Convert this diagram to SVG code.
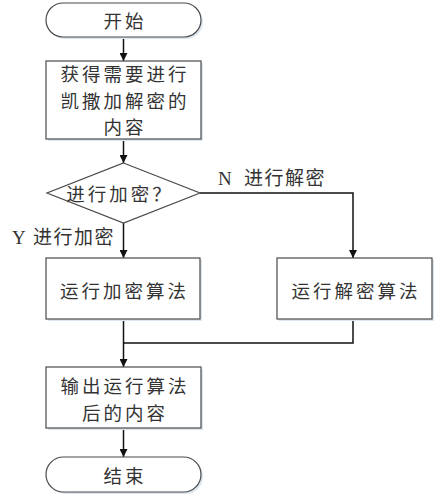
<svg xmlns="http://www.w3.org/2000/svg" width="437" height="500" viewBox="0 0 437 500">
<style>
.shape{fill:#ffffff;stroke:#4a4a4a;stroke-width:1.2}
.shadow{fill:#dde6ee;stroke:none}
.t{font-family:"Noto Sans CJK SC","Liberation Sans",sans-serif;font-size:18.5px;letter-spacing:3px;fill:#333333;text-anchor:middle;dominant-baseline:central}
.lbl{font-family:"Liberation Serif","Noto Sans CJK SC",serif;font-size:19px;letter-spacing:1.5px;fill:#333333;dominant-baseline:central}
.c{fill:none;stroke:#111111;stroke-width:1.5}
</style>
<defs>
<marker id="ah" viewBox="0 0 10 10" refX="10" refY="5" markerWidth="8" markerHeight="8" markerUnits="userSpaceOnUse" orient="auto">
<path d="M0,0 L10,5 L0,10 z" fill="#111111"/>
</marker>
</defs>
<rect width="437" height="500" fill="#ffffff"/>
<g id="connectors">
<line class="c" x1="123.5" y1="37" x2="123.5" y2="61" marker-end="url(#ah)"/>
<line class="c" x1="123.5" y1="139" x2="123.5" y2="163" marker-end="url(#ah)"/>
<polyline class="c" points="200,193 353,193 353,258" marker-end="url(#ah)"/>
<line class="c" x1="123.5" y1="223" x2="123.5" y2="258" marker-end="url(#ah)"/>
<polyline class="c" points="123.5,319 123.5,343"/>
<polyline class="c" points="353,319 353,343 123.5,343"/>
<line class="c" x1="123.5" y1="343" x2="123.5" y2="367" marker-end="url(#ah)"/>
<line class="c" x1="123.5" y1="428" x2="123.5" y2="457" marker-end="url(#ah)"/>
<text class="lbl" x="218" y="178">N<tspan x="244">进行解密</tspan></text>
<text class="lbl" x="12" y="237">Y<tspan x="33">进行加密</tspan></text>
</g>
<g id="start">
<rect class="shadow" x="48" y="5" width="155" height="34" rx="17"/>
<rect class="shape" x="46" y="3" width="155" height="34" rx="17"/>
<text class="t" x="125" y="20">开始</text>
</g>
<g id="get">
<rect class="shadow" x="48" y="63" width="155" height="78"/>
<rect class="shape" x="46" y="61" width="155" height="78"/>
<text class="t" x="125" y="73">获得需要进行</text>
<text class="t" x="125" y="99.5">凯撒加解密的</text>
<text class="t" x="125" y="126">内容</text>
</g>
<g id="decision">
<polygon class="shape" points="123.5,163 200,193 123.5,223 47,193"/>
<text class="t" x="120" y="193">进行加密？</text>
</g>
<g id="encrypt">
<rect class="shadow" x="48" y="260" width="154" height="61"/>
<rect class="shape" x="46" y="258" width="154" height="61"/>
<text class="t" x="124.5" y="290">运行加密算法</text>
</g>
<g id="decrypt">
<rect class="shadow" x="279" y="260" width="155" height="61"/>
<rect class="shape" x="277" y="258" width="155" height="61"/>
<text class="t" x="356" y="290">运行解密算法</text>
</g>
<g id="output">
<rect class="shadow" x="48" y="369" width="155" height="61"/>
<rect class="shape" x="46" y="367" width="155" height="61"/>
<text class="t" x="125" y="385">输出运行算法</text>
<text class="t" x="125" y="411.5">后的内容</text>
</g>
<g id="end">
<rect class="shadow" x="48" y="459" width="155" height="35" rx="17.5"/>
<rect class="shape" x="46" y="457" width="155" height="35" rx="17.5"/>
<text class="t" x="125" y="474.5">结束</text>
</g>
</svg>
